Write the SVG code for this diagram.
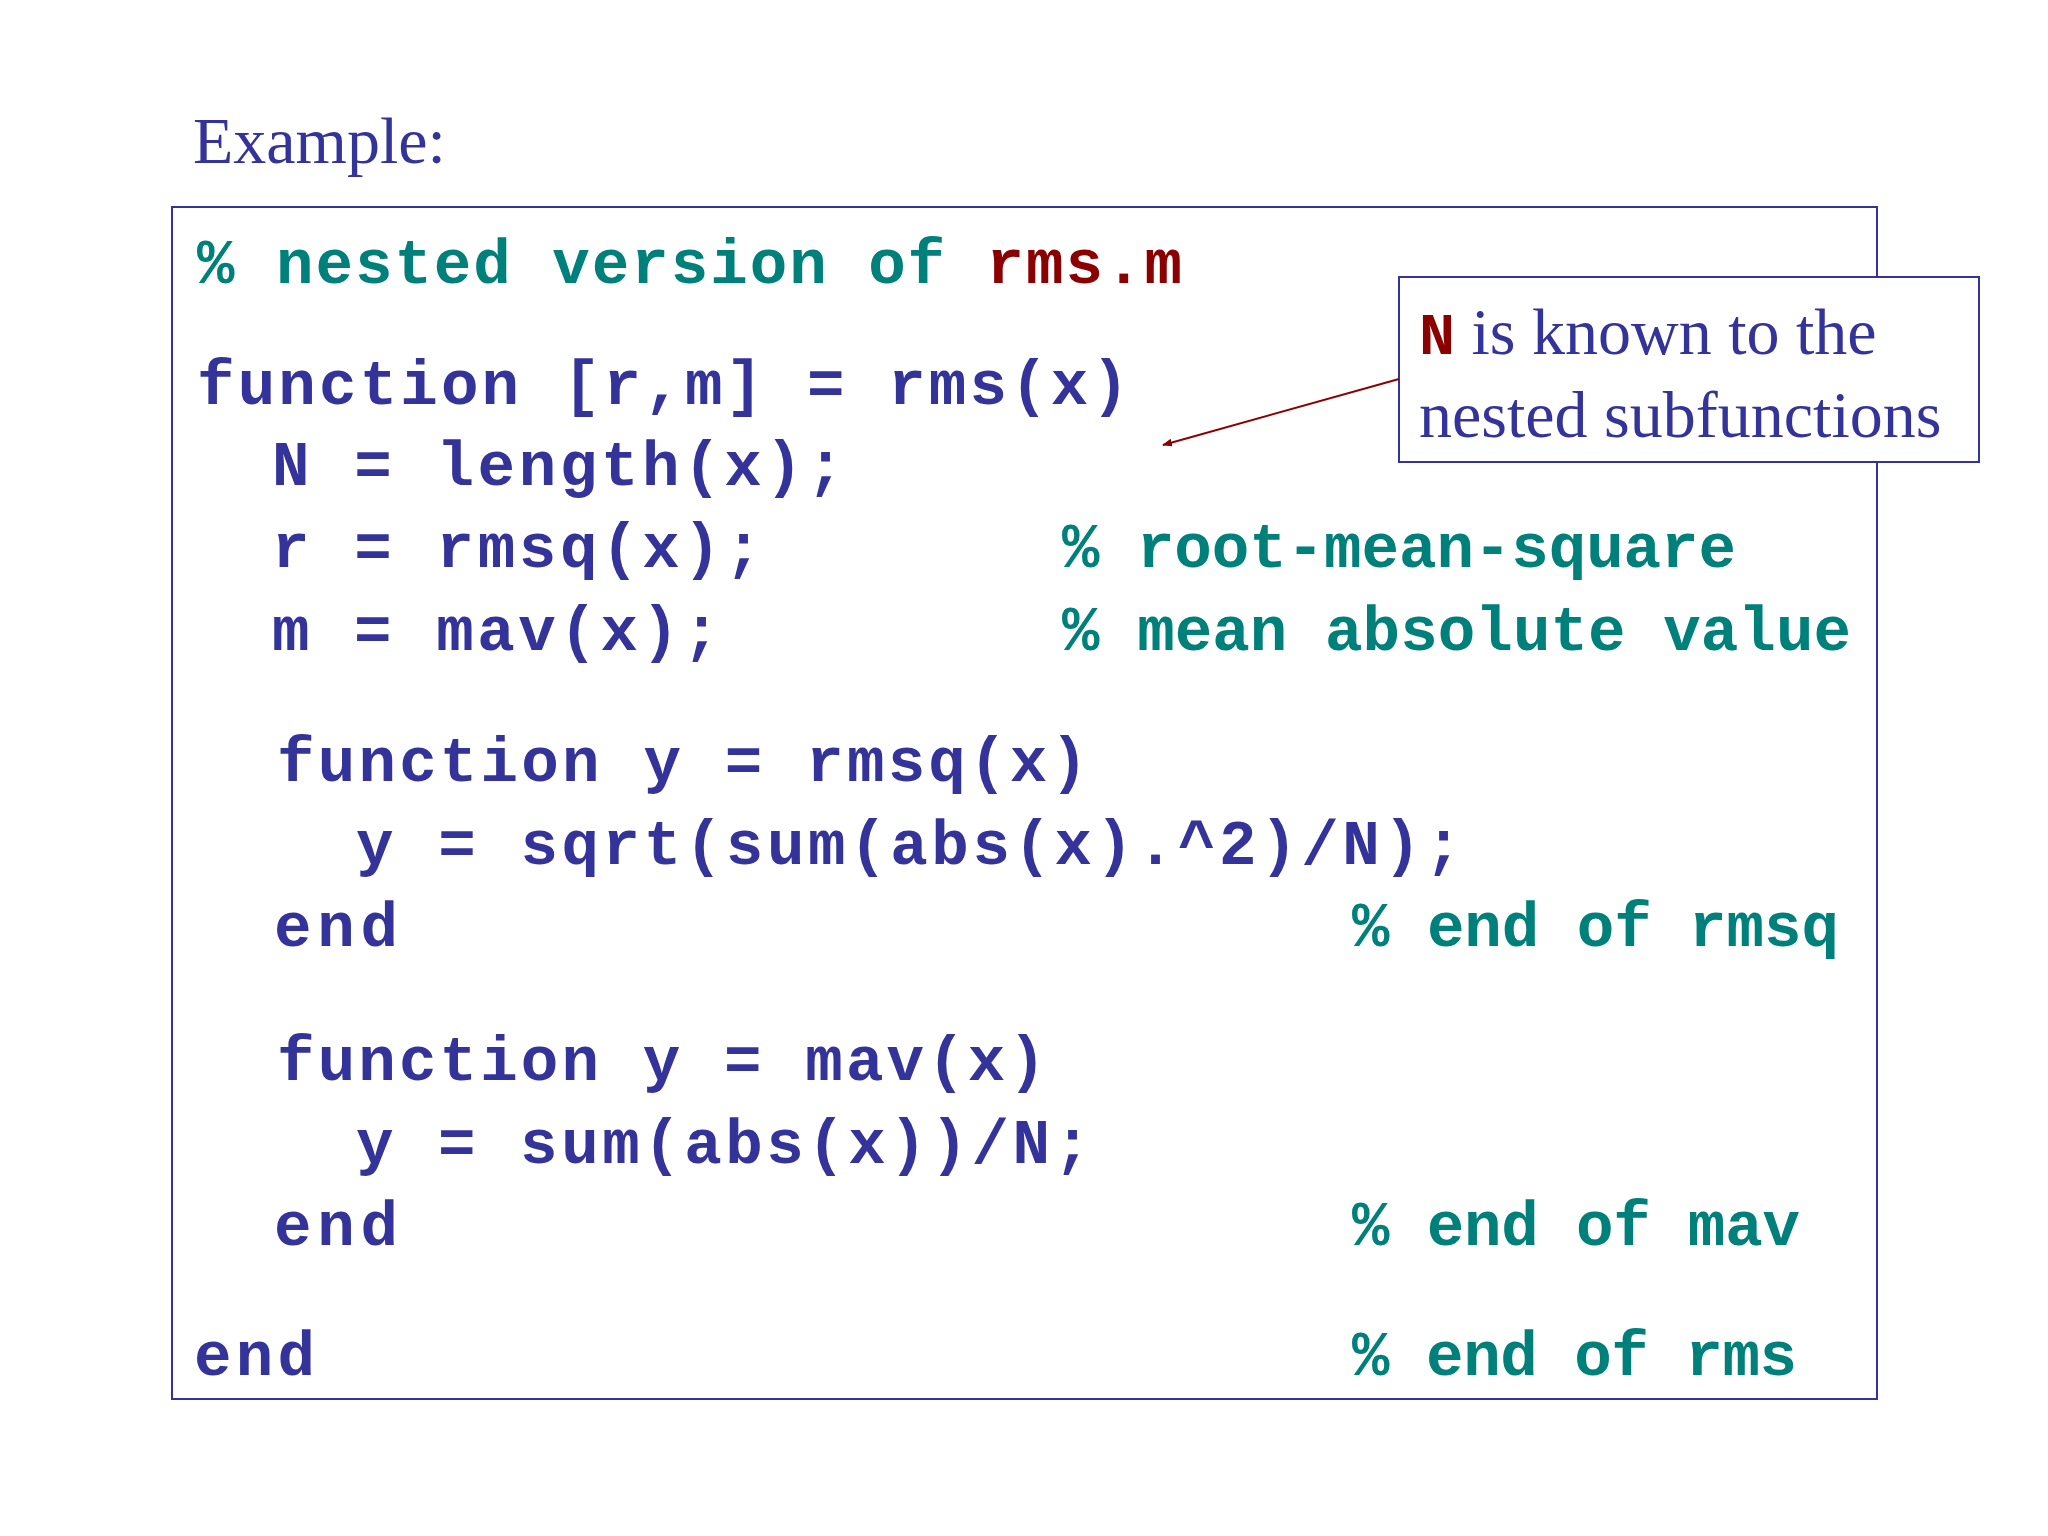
<svg xmlns="http://www.w3.org/2000/svg" width="2048" height="1536" viewBox="0 0 2048 1536">
<style>
.c{font-family:"Liberation Mono",monospace;font-weight:bold;font-size:62.5px;fill:#333399;white-space:pre}
.k{fill:#00807a}
.r{fill:#8b0000}
.t{font-family:"Liberation Serif",serif;font-size:66px;fill:#333399}
</style>
<defs><marker id="a" markerWidth="10" markerHeight="8" refX="9" refY="4" orient="auto" markerUnits="userSpaceOnUse" viewBox="0 0 10 8"><path d="M0,0L10,4L0,8z" fill="#8b0000"/></marker></defs>
<rect width="2048" height="1536" fill="#fff"/>
<text x="193" y="163" class="t" style="font-size:66px">Example:</text>
<g id="code">
<rect x="172" y="207" width="1705" height="1192" fill="#fff" stroke="#333399" stroke-width="2"/>
<text x="197" y="283" class="c k" textLength="985" lengthAdjust="spacing">% nested version of <tspan class="r">rms.m</tspan></text>
<text x="197" y="404" class="c" textLength="932" lengthAdjust="spacing">function [r,m] = rms(x)</text>
<text x="272" y="485" class="c" textLength="572" lengthAdjust="spacing">N = length(x);</text>
<text x="272" y="567" class="c" textLength="490" lengthAdjust="spacing">r = rmsq(x);</text>
<text x="1062" y="567" class="c k" textLength="674" lengthAdjust="spacing">% root-mean-square</text>
<text x="272" y="650" class="c" textLength="448" lengthAdjust="spacing">m = mav(x);</text>
<text x="1062" y="650" class="c k" textLength="789" lengthAdjust="spacing">% mean absolute value</text>
<text x="277" y="781" class="c" textLength="811" lengthAdjust="spacing">function y = rmsq(x)</text>
<text x="356" y="864" class="c" textLength="1106" lengthAdjust="spacing">y = sqrt(sum(abs(x).^2)/N);</text>
<text x="274" y="946" class="c" textLength="124" lengthAdjust="spacing">end</text>
<text x="1352" y="946" class="c k" textLength="487" lengthAdjust="spacing">% end of rmsq</text>
<text x="277" y="1080" class="c" textLength="769" lengthAdjust="spacing">function y = mav(x)</text>
<text x="356" y="1163" class="c" textLength="735" lengthAdjust="spacing">y = sum(abs(x))/N;</text>
<text x="274" y="1245" class="c" textLength="124" lengthAdjust="spacing">end</text>
<text x="1352" y="1245" class="c k" textLength="448" lengthAdjust="spacing">% end of mav</text>
<text x="194" y="1375" class="c" textLength="121" lengthAdjust="spacing">end</text>
<text x="1352" y="1375" class="c k" textLength="445" lengthAdjust="spacing">% end of rms</text>
</g>
<g id="callout">
<rect x="1399" y="277" width="580" height="185" fill="#fff" stroke="#333399" stroke-width="2"/>
<text x="1419" y="354" class="t"><tspan class="r" style="font-family:'Liberation Mono',monospace;font-weight:bold;font-size:60px">N</tspan> is known to the</text>
<text x="1419" y="437" class="t">nested subfunctions</text>
</g>
<g id="connectors">
<line x1="1399" y1="379" x2="1163" y2="445" stroke="#8b0000" stroke-width="2" marker-end="url(#a)"/>
</g>
</svg>
